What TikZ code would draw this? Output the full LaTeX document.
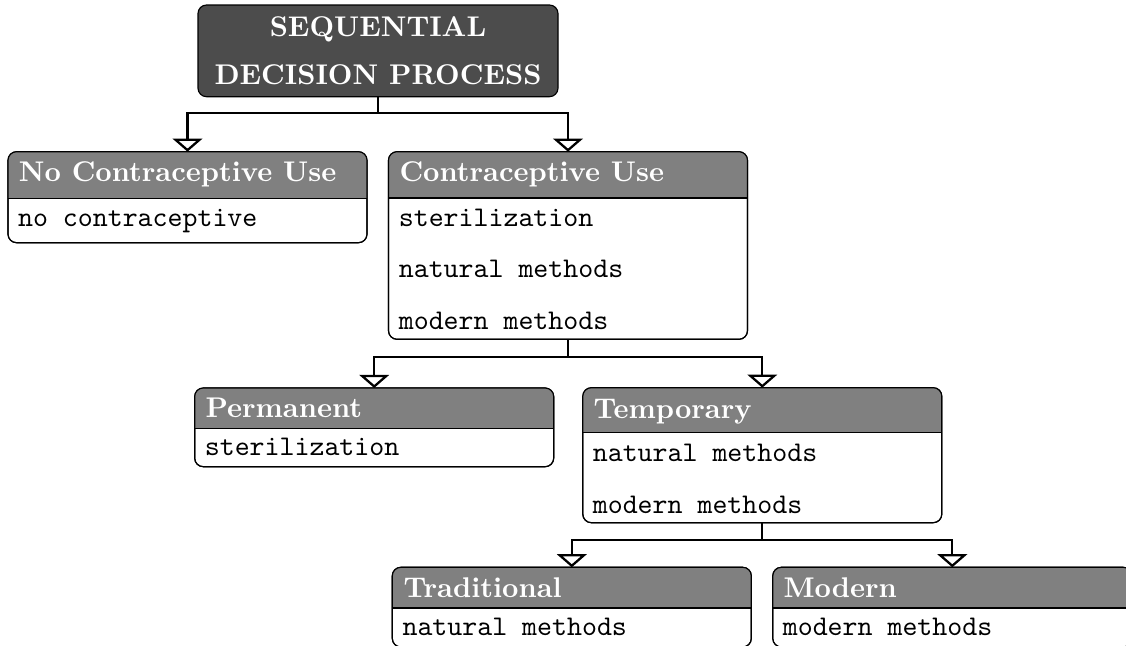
\documentclass[tikz,border=0pt]{standalone}
\usetikzlibrary{arrows.meta}
\newlength\pxu
\setlength\pxu{0.351pt}
\tikzset{
  boxsty/.style={draw=black, line width=0.4pt, fill=white, rounded corners=3pt,
    inner sep=0pt, outer sep=0pt, minimum width=359\pxu},
  boxline/.style={draw=black, line width=0.4pt, rounded corners=3pt},
  sepline/.style={draw=black, line width=0.4pt},
  hdrfill/.style={fill=black!50},
  rootsty/.style={draw=black, line width=0.4pt, fill=black!70, rounded corners=3pt,
    inner sep=0pt, outer sep=0pt, minimum width=360\pxu, minimum height=91.7\pxu},
  hdtext/.style={text=white, font=\bfseries, inner sep=0pt, anchor=base west},
  rttext/.style={text=white, font=\bfseries, inner sep=0pt, anchor=base},
  bdtext/.style={text=black, font=\ttfamily, inner sep=0pt, anchor=base west},
  conn/.style={line width=0.8pt, -{Triangle[open, length=4.6pt, width=10.4pt]}},
}
% name, center x, top y, header bottom y, bottom y  (pixel units, y downward)
\newcommand\drawunitbox[5]{%
  \node[boxsty, minimum height={(#5-(#3))*\pxu}, anchor=north] (#1) at (#2,#3) {};
  \coordinate (#1h) at (#2,#4);
  \begin{scope}
    \clip[rounded corners=3pt] (#1.north west) rectangle (#1.south east);
    \fill[hdrfill] (#1.north west) rectangle (#1.east |- #1h);
  \end{scope}
  \draw[sepline] (#1.west |- #1h) -- (#1.east |- #1h);
  \draw[boxline] (#1.north west) rectangle (#1.south east);
}
\begin{document}
\begin{tikzpicture}[x=\pxu, y=-\pxu]
\useasboundingbox (0,0) rectangle (1126,645);

% root
\node[rootsty, anchor=north] (root) at (378,5) {};
\node[rttext] (root1) at (378,36) {SEQUENTIAL};
\node[rttext] (root2) at (378,84) {DECISION PROCESS};

% level 1
\drawunitbox{nocu}{187.5}{151.7}{198.3}{242.7}
\node[hdtext] (nocut) at (18.3,181.7) {No Contraceptive Use};
\node[bdtext] (nocub) at (17.5,226) {no contraceptive};

\drawunitbox{cu}{568}{151.7}{198}{339.3}
\node[hdtext] (cut) at (399,181.7) {Contraceptive Use};
\node[bdtext] (cub1) at (398.3,226) {sterilization};
\node[bdtext] (cub2) at (398.3,277.5) {natural methods};
\node[bdtext] (cub3) at (398.3,329) {modern methods};

% level 2
\drawunitbox{perm}{374.2}{388}{428.3}{466.7}
\node[hdtext] (permt) at (205,417.7) {Permanent};
\node[bdtext] (permb) at (204.3,455) {sterilization};

\drawunitbox{temp}{762.3}{387.7}{432.7}{522.7}
\node[hdtext] (tempt) at (593,418) {Temporary};
\node[bdtext] (tempb1) at (592.3,461.5) {natural methods};
\node[bdtext] (tempb2) at (592.3,513) {modern methods};

% level 3
\drawunitbox{trad}{571.8}{567.3}{608}{647}
\node[hdtext] (tradt) at (403,597.3) {Traditional};
\node[bdtext] (tradb) at (402,635) {natural methods};

\drawunitbox{mod}{952.3}{567.3}{608}{647}
\node[hdtext] (modt) at (783,597.3) {Modern};
\node[bdtext] (modb) at (782.3,635) {modern methods};

% connectors
\draw[conn] (root.south) -- ++(0,16.6) -| (nocu.north);
\draw[conn] (root.south) -- ++(0,16.6) -| (cu.north);
\draw[conn] (cu.south) -- ++(0,17.4) -| (perm.north);
\draw[conn] (cu.south) -- ++(0,17.4) -| (temp.north);
\draw[conn] (temp.south) -- ++(0,17.5) -| (trad.north);
\draw[conn] (temp.south) -- ++(0,17.5) -| (mod.north);
\end{tikzpicture}
\end{document}
